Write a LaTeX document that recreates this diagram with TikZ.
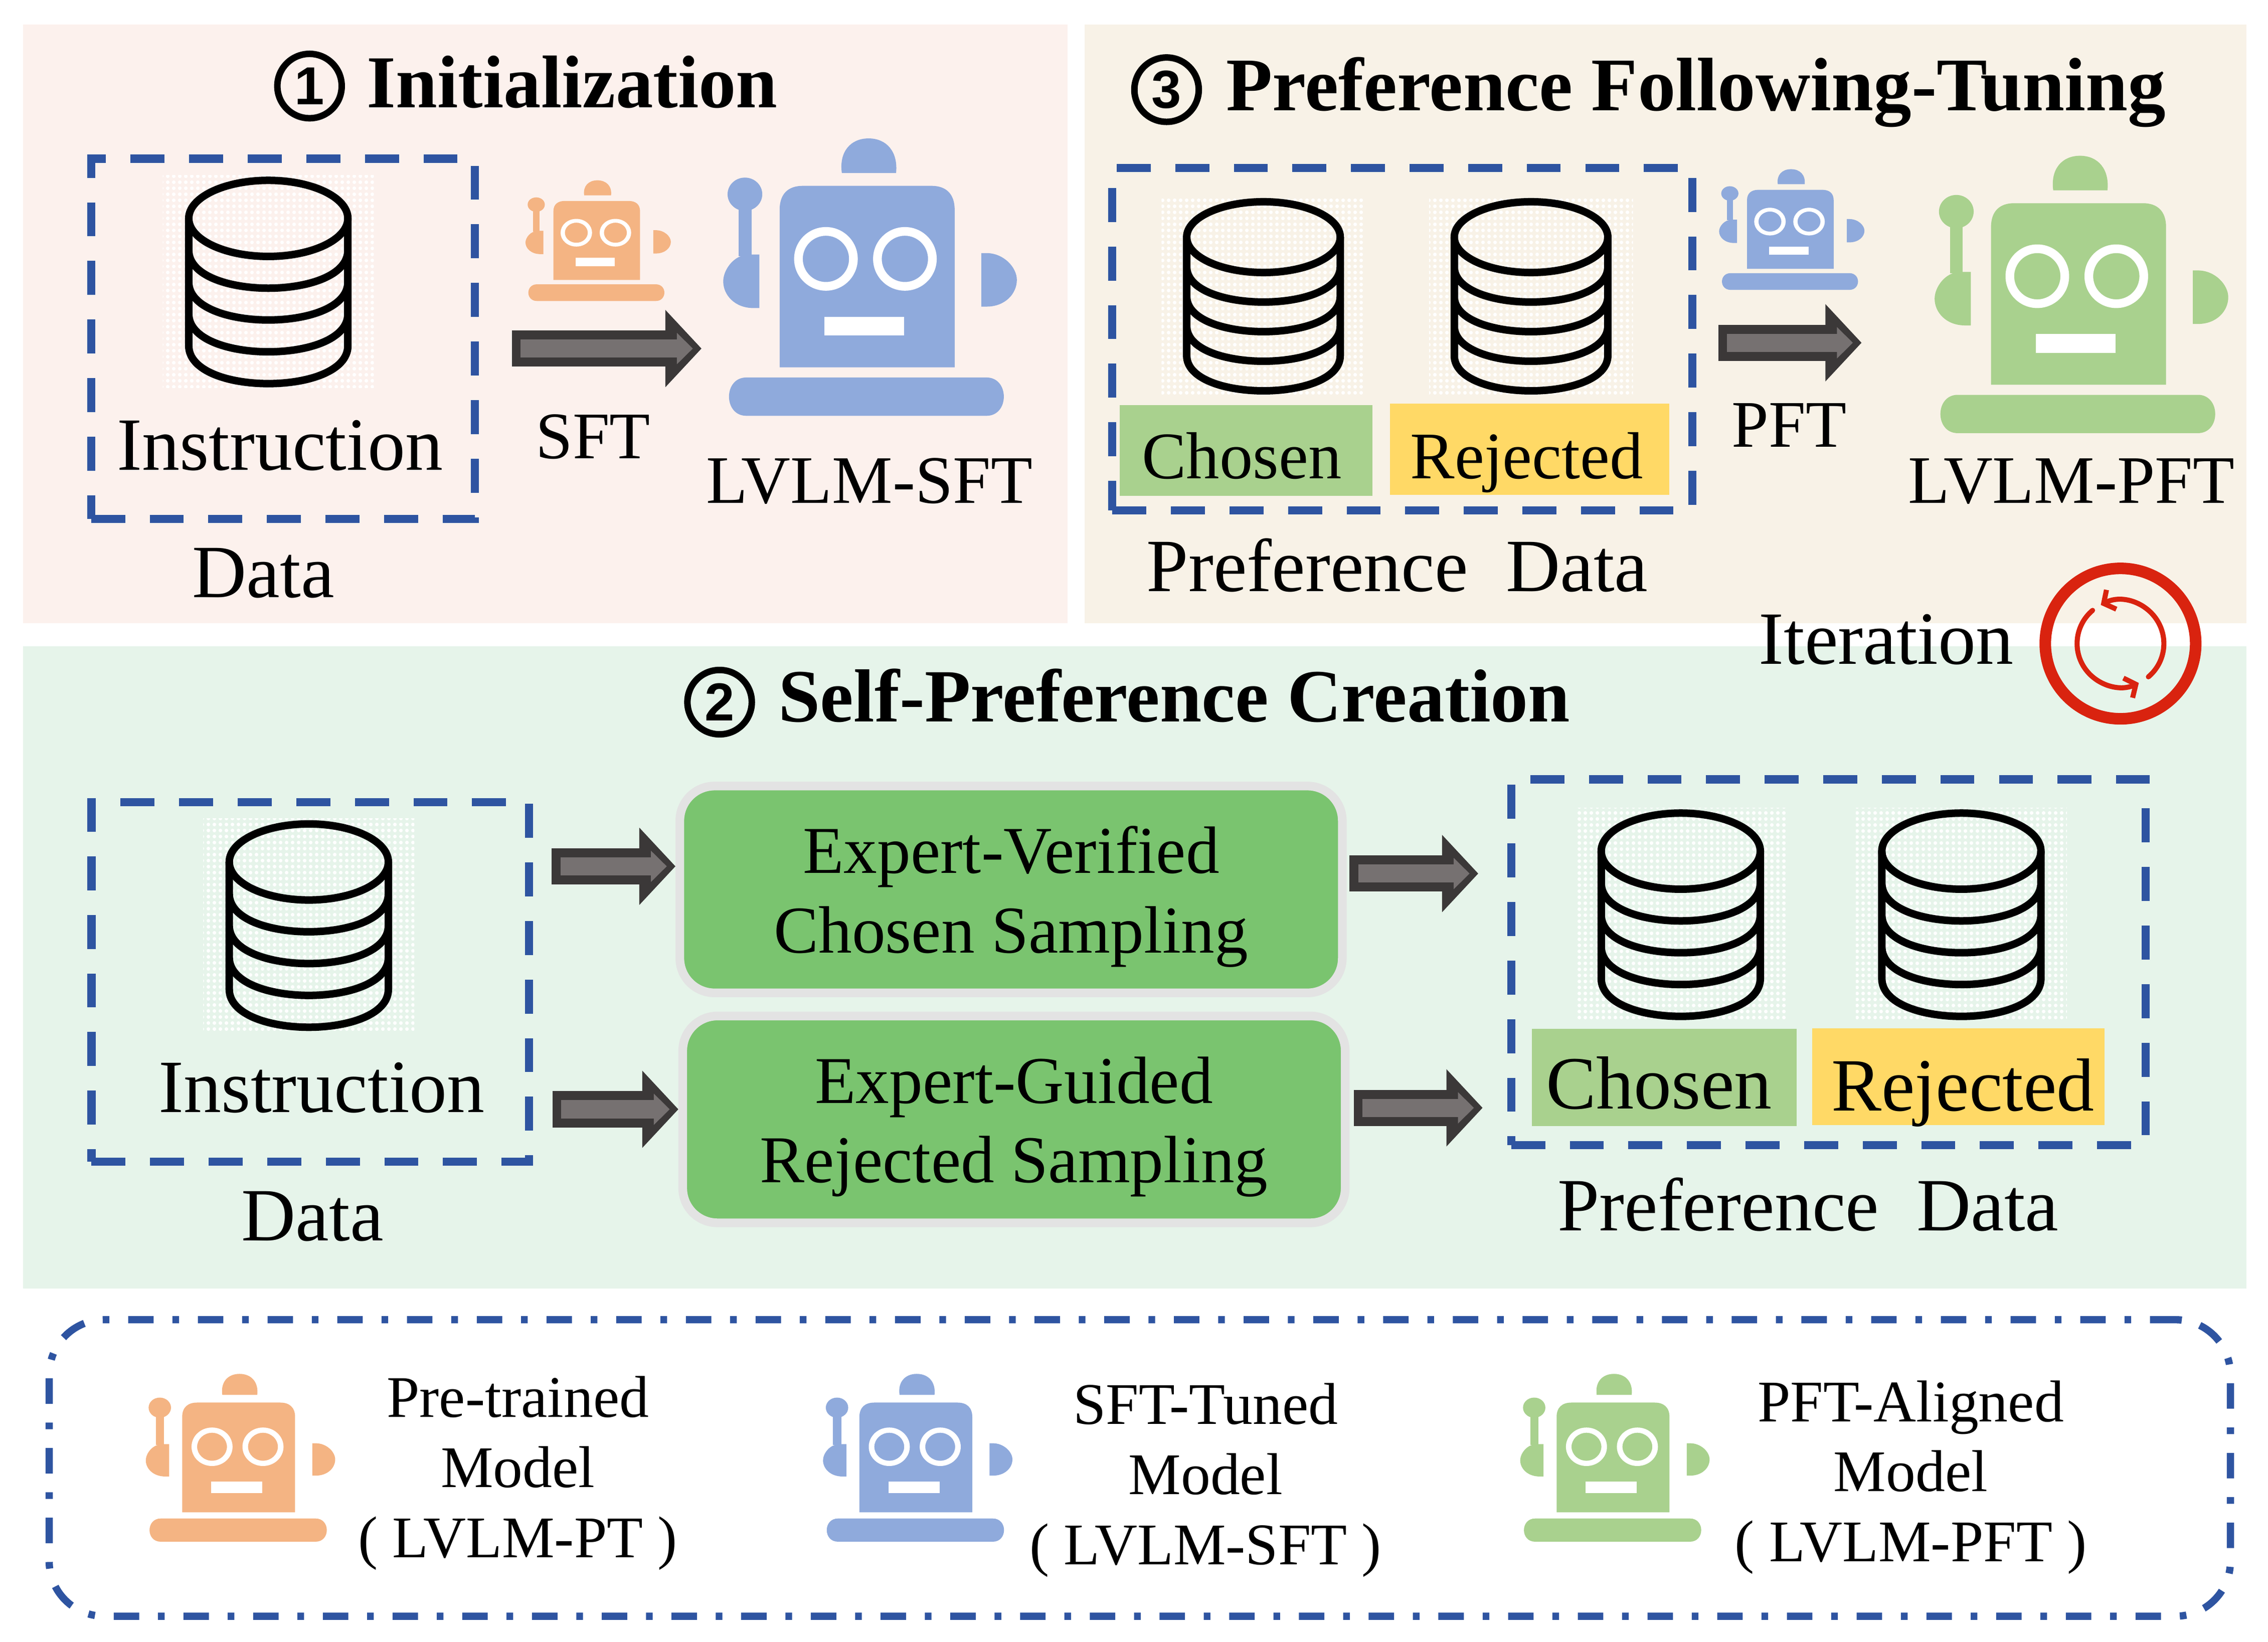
\documentclass[tikz,border=0pt]{standalone}
\usepackage{fontspec}
\setmainfont{Liberation Serif}
\newfontfamily\numfont{Liberation Sans}
\usepackage{tikz}
\usetikzlibrary{arrows.meta,patterns.meta}
\definecolor{panelrose}{HTML}{FCF1ED}
\definecolor{panelsand}{HTML}{F8F2E7}
\definecolor{panelmint}{HTML}{E6F4EA}
\definecolor{dashblue}{HTML}{2E54A1}
\definecolor{robotorange}{HTML}{F4B483}
\definecolor{robotblue}{HTML}{8FAADC}
\definecolor{robotgreen}{HTML}{A9D18E}
\definecolor{tagyellow}{HTML}{FFD966}
\definecolor{sampgreen}{HTML}{7AC46F}
\definecolor{sampedge}{HTML}{E3E3E3}
\definecolor{arrowdark}{HTML}{3B3838}
\definecolor{arrowgrey}{HTML}{767171}
\definecolor{iterred}{HTML}{D9230F}
\newcommand{\blockarrow}[2]{
    \draw[arrow outer] (#1) -- (#2);
    \draw[arrow inner] (#1) -- (#2);
}
\newcommand{\samptop}{\rule{0pt}{42.5pt}}
\begin{document}
\begin{tikzpicture}[
                    x=1pt, y=-1pt,
                    label big/.style={
                        font=\fontsize{52}{60}\selectfont,
                        anchor=base,
                        inner sep=0pt
                    },
                    label mid/.style={
                        font=\fontsize{47}{55}\selectfont,
                        anchor=base,
                        inner sep=0pt
                    },
                    tag mid/.style={
                        font=\fontsize{46}{55}\selectfont,
                        inner sep=0pt
                    },
                    title/.style={
                        font=\bfseries\fontsize{52}{60}\selectfont,
                        anchor=base west,
                        inner sep=0pt
                    },
                    title num/.style={
                        circle,
                        draw=black,
                        line width=4.5pt,
                        minimum size=44.5pt,
                        inner sep=0pt,
                        font=\numfont\bfseries\fontsize{37}{37}\selectfont
                    },
                    dash box/.style={
                        draw=dashblue,
                        line width=5.6pt,
                        dash pattern=on 23.5pt off 17pt
                    },
                    legend box/.style={
                        draw=dashblue,
                        line width=5pt,
                        rounded corners=38pt,
                        dash pattern=on 17.6pt off 13pt on 4.6pt off 13pt
                    },
                    samp box/.style={
                        draw=sampedge,
                        fill=sampgreen,
                        line width=6pt,
                        rounded corners=24pt,
                        align=center,
                        font=\fontsize{46.3}{55}\selectfont,
                        minimum width=458pt,
                        minimum height=143pt,
                        inner sep=0pt
                    },
                    tag chosen/.style={
                        fill=robotgreen,
                        inner sep=0pt
                    },
                    tag rejected/.style={
                        fill=tagyellow,
                        inner sep=0pt
                    },
                    legend text/.style={
                        align=center,
                        font=\fontsize{40.8}{48.5}\selectfont,
                        inner sep=0pt
                    },
                    arrow outer/.style={
                        draw=arrowdark,
                        line width=25pt,
                        -{Triangle[length=25pt,width=52pt,color=arrowdark]}
                    },
                    arrow inner/.style={
                        draw=arrowgrey,
                        line width=12.5pt,
                        shorten <=6pt,
                        shorten >=6pt,
                        -{Triangle[length=11pt,width=21pt,color=arrowgrey]}
                    },
                    iter arc/.style={
                        draw=iterred,
                        line width=3.5pt,
                        line cap=round
                    },
                    pics/robot/.style={code={
                        \fill[#1] (-61,64) -- (-61,-45) .. controls (-61,-56) and (-55,-61.5) .. (-45,-61.5)
                            -- (44,-61.5) .. controls (54,-61.5) and (60,-56) .. (60,-45) -- (60,64) -- cycle;
                        \fill[#1] (-18,-70.4) .. controls (-20,-85) and (-12,-94.3) .. (0.5,-94.3)
                            .. controls (13,-94.3) and (21,-85) .. (19.5,-70.4) -- cycle;
                        \fill[#1] (-85,-55.7) ellipse [x radius=12, y radius=11.5];
                        \fill[#1] (-89.3,-47) rectangle (-80.5,-13);
                        \fill[#1] (-75,-14) -- (-82,-14) .. controls (-93,-14) and (-100,-3) .. (-100,4.5)
                            .. controls (-100,14) and (-92,23) .. (-79,23) -- (-75,23) -- cycle;
                        \fill[#1] (78.5,-15) -- (82,-15) .. controls (94,-15) and (103,-5) .. (103,3.5)
                            .. controls (103,13) and (95,22) .. (82,22) -- (78.5,22) -- cycle;
                        \fill[#1] (-84,71) -- (82,71) .. controls (98,71) and (98,97.5) .. (82,97.5)
                            -- (-84,97.5) .. controls (-100,97.5) and (-100,71) .. (-84,71) -- cycle;
                        \fill[white, even odd rule] (-29,-11) circle [radius=22] (-29,-11) circle [radius=16];
                        \fill[white, even odd rule] (25.6,-11) circle [radius=22] (25.6,-11) circle [radius=16];
                        \fill[white] (-30,29) rectangle (25,42);
                    }},
                    pics/dbstack/.style={code={
                        \fill[pattern={Dots[distance=4pt,radius=1.3pt]}, pattern color=white] (-73,-1) rectangle (73,146);
                        \draw[black, line width=5.2pt] (0,29) ellipse [x radius=55, y radius=26.3];
                        \draw[black, line width=5.2pt, line join=round]
                            (-55,29) -- (-55,117)
                            .. controls (-55,152) and (55,152) .. (55,117) -- (55,29)
                            (-55,51) .. controls (-55,86) and (55,86) .. (55,51)
                            (-55,73) .. controls (-55,108) and (55,108) .. (55,73)
                            (-55,95) .. controls (-55,130) and (55,130) .. (55,95);
                    }}
                ]
    \useasboundingbox (0,0) rectangle (1568,1135.3);
    \fill[white] (0,0) rectangle (1568,1135.3);
    % panels
    \fill[panelrose] (16,17) rectangle (738,431);
    \fill[panelsand] (750,17) rectangle (1553,431);
    \fill[panelmint] (16,447) rectangle (1553,891);

    % 1 initialization
    \node[title num] (numinit) at (214,59.5) {1};
    \node[title, font=\bfseries\fontsize{51.6}{60}\selectfont] (titleinit) at (253.5,74.5) {Initialization};
    \pic at (185.5,122) {dbstack};
    \node[dash box, minimum width=265.4pt, minimum height=249pt] (datainit) at (195.7,234.2) {};
    \node[label big] (instinit) at (193.5,325) {Instruction};
    \node[label big] (datalabinit) at (182,413) {Data};
    \pic[xscale=0.495, yscale=0.435] at (412.8,165.7) {robot=robotorange};
    \coordinate (sftfrom) at (354,241);
    \coordinate (sftto) at (485,241);
    \blockarrow{sftfrom}{sftto}
    \node[tag mid, anchor=base] (sftlab) at (410,317) {SFT};
    \pic at (600,190) {robot=robotblue};
    \node[label mid] (lvlmsft) at (601,348) {LVLM-SFT};

    % 3 preference following-tuning
    \node[title num] (numpft) at (806.5,62) {3};
    \node[title, font=\bfseries\fontsize{52.4}{60}\selectfont] (titlepft) at (847.5,76.5) {Preference Following-Tuning};
    \pic[xscale=0.965, yscale=0.93] at (873.5,137) {dbstack};
    \pic[xscale=0.965, yscale=0.93] at (1058.5,137) {dbstack};
    \node[tag chosen, tag mid, anchor=center, minimum width=175pt, text height=51pt, text depth=12pt] (chosenpft) at (861.5,311.5) {Chosen\kern6pt};
    \node[tag rejected, tag mid, anchor=center, minimum width=193pt, text height=52pt, text depth=11pt] (rejectpft) at (1057.5,310.5) {Rejected\kern4pt};
    \node[dash box, minimum width=401pt, minimum height=237pt] (datapft) at (969.5,234.5) {};
    \node[label big] (preflabpft) at (966,409) {Preference\ \ Data};
    \pic[xscale=0.495, yscale=0.435] at (1238,158) {robot=robotblue};
    \coordinate (pftfrom) at (1188,237);
    \coordinate (pftto) at (1287,237);
    \blockarrow{pftfrom}{pftto}
    \node[tag mid, anchor=base] (pftlab) at (1237,309) {PFT};
    \pic at (1437.5,202) {robot=robotgreen};
    \node[label mid] (lvlmpft) at (1432,348) {LVLM-PFT};
    \node[label big] (iterlab) at (1304,459) {Iteration};
    \draw[draw=iterred, line width=8pt] (1466,445) circle [radius=52];
    \begin{scope}[shift={(1466,445)}, y=1pt]
        \draw[iter arc, {Straight Barb[length=6pt,width=15pt]}-] (117:30) arc [start angle=117, end angle=-50, radius=30];
        \draw[iter arc, -{Straight Barb[length=6pt,width=15pt]}] (130:30) arc [start angle=130, end angle=295, radius=30];
    \end{scope}

    % 2 self-preference creation
    \node[title num] (numself) at (497.5,485.5) {2};
    \node[title] (titleself) at (538,499) {Self-Preference Creation};
    \pic at (213.5,567) {dbstack};
    \node[dash box, minimum width=302.5pt, minimum height=248.6pt] (dataself) at (214.5,679) {};
    \node[label big] (instself) at (222.5,769) {Instruction};
    \node[label big] (datalabself) at (216,858) {Data};
    \node[samp box] (sampchosen) at (699,615) {\samptop Expert-Verified\\Chosen Sampling};
    \node[samp box] (sampreject) at (701,774) {\samptop Expert-Guided\\Rejected Sampling};
    \coordinate (inupper) at (381.5,599);
    \coordinate (inlower) at (382,767);
    \blockarrow{inupper}{inupper -| sampchosen.west}
    \blockarrow{inlower}{inlower -| sampreject.west}
    \coordinate (outupper) at (933,604);
    \coordinate (outlower) at (936,766);
    \coordinate (outupperto) at (1022,604);
    \coordinate (outlowerto) at (1025,766);
    \blockarrow{outupper}{outupperto}
    \blockarrow{outlower}{outlowerto}
    \pic at (1162,559.5) {dbstack};
    \pic at (1356,559.5) {dbstack};
    \node[tag chosen, label big, anchor=center, minimum width=183pt, text height=55pt, text depth=12pt] (chosenself) at (1150.5,745) {Chosen\kern7pt};
    \node[tag rejected, label big, anchor=center, minimum width=202pt, text height=57pt, text depth=10pt] (rejectself) at (1354,744.5) {\kern6pt Rejected};
    \node[dash box, minimum width=438.6pt, minimum height=253pt] (prefself) at (1264.1,665.4) {};
    \node[label big] (preflabself) at (1250,851) {Preference\ \ Data};

    % legend
    \node[legend box, minimum width=1508pt, minimum height=205pt] (legendframe) at (788,1015) {};
    \pic[xscale=0.645, yscale=0.605] at (165.3,1007) {robot=robotorange};
    \node[legend text] (legendpt) at (358,1018.5) {Pre-trained\\Model\\( LVLM-PT )};
    \pic[xscale=0.645, yscale=0.605] at (633.5,1007) {robot=robotblue};
    \node[legend text] (legendsft) at (833.5,1023.5) {SFT-Tuned\\Model\\( LVLM-SFT )};
    \pic[xscale=0.645, yscale=0.605] at (1115.5,1007) {robot=robotgreen};
    \node[legend text] (legendpft) at (1321,1021.5) {PFT-Aligned\\Model\\( LVLM-PFT )};
\end{tikzpicture}
\end{document}
